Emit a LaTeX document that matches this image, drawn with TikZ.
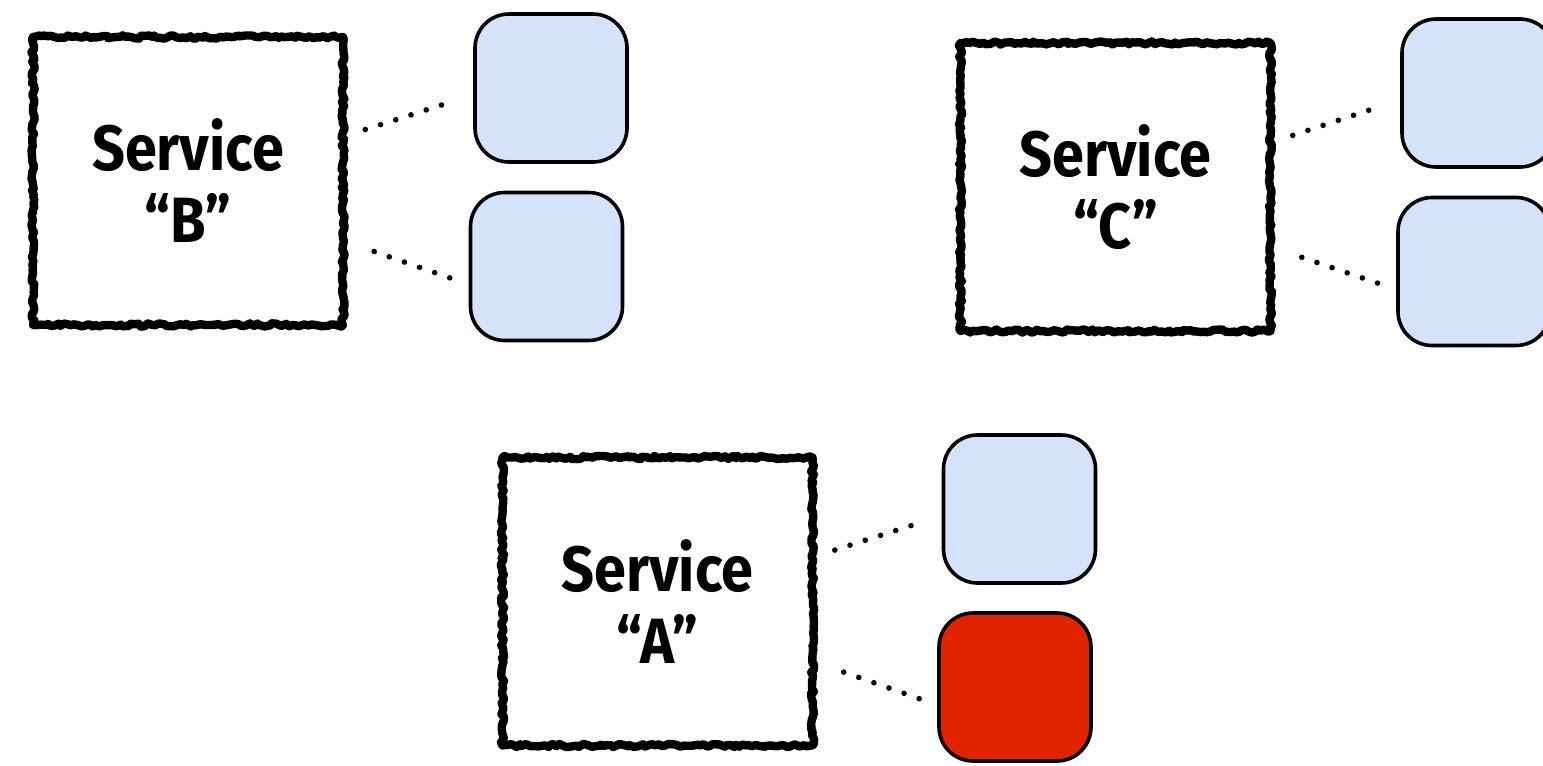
\documentclass[tikz,border=0pt]{standalone}
\usepackage{fontspec}
\usepackage{tikz}
\usetikzlibrary{positioning,decorations.pathmorphing}
\newfontfamily\svcfont{Fira Sans}[FakeStretch=0.9]
\definecolor{ink}{HTML}{000000}
\definecolor{instbg}{HTML}{D4E2FA}
\definecolor{bad}{HTML}{E12300}

\begin{document}
\begin{tikzpicture}[x=0.5pt,y=-0.5pt,
  svc/.style={draw=ink,line width=4.2pt,line join=round,decorate,
    decoration={random steps,segment length=1.6pt,amplitude=0.8pt},
    minimum width=155pt,minimum height=144pt,align=center,
    font=\svcfont\bfseries\fontsize{32}{36}\selectfont},
  inst/.style={draw=ink,line width=1.8pt,rounded corners=17pt,fill=instbg,
    minimum width=76pt,minimum height=74pt,inner sep=0pt},
  link/.style={line width=2.8pt,line cap=round,dash pattern=on 0pt off 8pt}]
  \useasboundingbox (0,0) rectangle (1543,766);
  \clip (0,0) rectangle (1543,766);

  % service B
  \node[svc] (svcB) at (188,181) {Service\\“B”};
  \node[inst] (b1) at (551,88) {};
  \node[inst] (b2) at (546.5,266.5) {};
  \draw[link,shorten <=9.5pt,shorten >=14.7pt] (svcB.16) -- (b1.185);
  \draw[link,shorten <=14.3pt,shorten >=9.3pt] (svcB.339) -- (b2.193);

  % service C
  \node[svc] (svcC) at (1115.5,187) {Service\\“C”};
  \node[inst] (c1) at (1478,93) {};
  \node[inst] (c2) at (1474,271.5) {};
  \draw[link,shorten <=9.5pt,shorten >=14.7pt] (svcC.16) -- (c1.185);
  \draw[link,shorten <=14.3pt,shorten >=9.3pt] (svcC.339) -- (c2.193);

  % service A, one instance down
  \node[svc] (svcA) at (657.5,601.5) {Service\\“A”};
  \node[inst] (a1) at (1019.5,509) {};
  \node[inst,fill=bad] (a2) at (1015,687) {};
  \draw[link,shorten <=9.5pt,shorten >=14.7pt] (svcA.16) -- (a1.185);
  \draw[link,shorten <=14.3pt,shorten >=9.3pt] (svcA.339) -- (a2.193);
\end{tikzpicture}
\end{document}
